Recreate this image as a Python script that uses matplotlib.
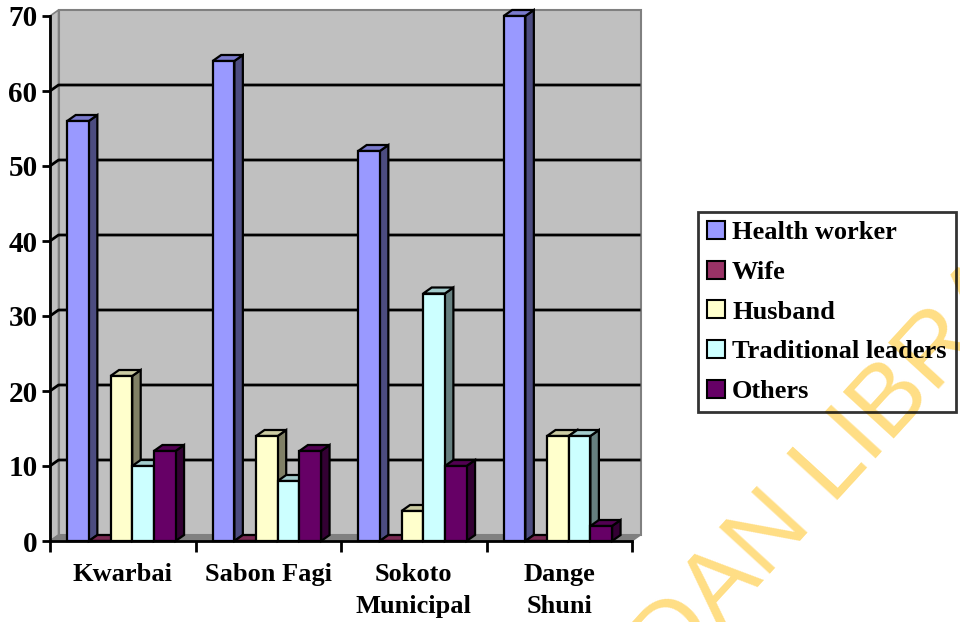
import matplotlib.pyplot as plt
from matplotlib.patches import Polygon, Patch

plt.rcParams["font.family"] = ["Liberation Serif", "DejaVu Serif"]
plt.rcParams["font.weight"] = "bold"

districts = ["Kwarbai", "Sabon Fagi", "Sokoto\nMunicipal", "Dange\nShuni"]
series = ["Health worker", "Wife", "Husband", "Traditional leaders", "Others"]
health_worker = [56, 64, 52, 70]
wife = [0, 0, 0, 0]
husband = [22, 14, 4, 14]
traditional_leaders = [10, 8, 33, 14]
others = [12, 12, 10, 2]
values = [health_worker, wife, husband, traditional_leaders, others]

front_colors = ["#9999FF", "#993366", "#FFFFCC", "#CCFFFF", "#660066"]
side_colors = ["#4C4C80", "#4D1A33", "#808066", "#668080", "#330033"]
top_colors = ["#7A7ACC", "#7A2952", "#CCCCA3", "#A3CCCC", "#520052"]

W, H = 960, 622
fig = plt.figure(figsize=(W / 100, H / 100), dpi=100)
ax_px = (50, 81, 582, 525)  # left, bottom, width, height in pixels
ax = fig.add_axes([ax_px[0] / W, ax_px[1] / H, ax_px[2] / W, ax_px[3] / H])
ax.set_xlim(0, 4)
ax.set_ylim(0, 70)

# depth offset of the 3-D look, pixels -> data units
dx = 8.5 / ax_px[2] * 4
dy = 6.0 / ax_px[3] * 70

# walls and floor
ax.add_patch(Polygon([(dx, dy), (4 + dx, dy), (4 + dx, 70 + dy), (dx, 70 + dy)],
                     closed=True, fc="#C0C0C0", ec="#808080", lw=1.5,
                     clip_on=False, zorder=1))
ax.add_patch(Polygon([(0, 0), (dx, dy), (dx, 70 + dy), (0, 70)],
                     closed=True, fc="#C0C0C0", ec="#808080", lw=1.2,
                     clip_on=False, zorder=1))
ax.add_patch(Polygon([(0, 0), (4, 0), (4 + dx, dy), (dx, dy)],
                     closed=True, fc="#808080", ec="#808080", lw=1,
                     clip_on=False, zorder=1.2))

for v in range(10, 70, 10):
    ax.plot([0, dx, 4 + dx], [v, v + dy, v + dy], color="black", lw=2,
            clip_on=False, zorder=1.1, solid_capstyle="butt")

# bars
bar_w = 0.149
start = 0.118
z = 2
for i in range(len(districts)):
    for j, vals in enumerate(values):
        h = vals[i]
        x0 = i + start + j * bar_w
        x1 = x0 + bar_w
        side = Polygon([(x1, 0), (x1 + dx, dy), (x1 + dx, h + dy), (x1, h)],
                       closed=True, fc=side_colors[j], ec="black", lw=1.6,
                       clip_on=False, zorder=z)
        top = Polygon([(x0, h), (x1, h), (x1 + dx, h + dy), (x0 + dx, h + dy)],
                      closed=True, fc=top_colors[j], ec="black", lw=1.6,
                      clip_on=False, zorder=z)
        face = Polygon([(x0, 0), (x1, 0), (x1, h), (x0, h)],
                       closed=True, fc=front_colors[j], ec="black", lw=1.6,
                       clip_on=False, zorder=z + 0.01)
        ax.add_patch(side)
        ax.add_patch(top)
        ax.add_patch(face)
        z += 0.02

# axes
for s in ["top", "right"]:
    ax.spines[s].set_visible(False)
for s in ["left", "bottom"]:
    ax.spines[s].set_linewidth(2)
    ax.spines[s].set_zorder(10)
ax.set_facecolor("none")

ax.set_yticks(range(0, 71, 10))
ax.tick_params(axis="y", direction="out", length=6, width=2, labelsize=21, pad=3)
ax.set_xticks([0, 1, 2, 3, 4])
ax.set_xticklabels([])
ax.set_xticks([0.5, 1.5, 2.5, 3.5], minor=True)
ax.set_xticklabels(districts, minor=True, fontsize=19, linespacing=1.47, va="top")
ax.tick_params(axis="x", which="major", direction="out", length=8, width=2)
ax.tick_params(axis="x", which="minor", length=0, pad=16)
for lbl in ax.get_yticklabels() + ax.get_xticklabels(minor=True):
    lbl.set_fontweight("bold")

# legend
handles = [Patch(fc=c, ec="black", lw=1.5) for c in front_colors]
leg = fig.legend(handles, series, loc="upper left",
                 bbox_to_anchor=(698 / W, 1 - 212 / H),
                 prop={"family": "Liberation Serif", "weight": "bold", "size": 19},
                 fancybox=False, frameon=True, edgecolor="black",
                 handlelength=0.68, handleheight=0.68, handletextpad=0.27,
                 labelspacing=0.62, borderpad=0.34, borderaxespad=0)
leg.get_frame().set_linewidth(2)
leg.get_frame().set_facecolor("none")
leg.set_zorder(5)

# library watermark
fig.text(0.5854, -0.2878, "IBADAN LIBRARY", fontsize=72, color="#FFDE85",
         family="Liberation Sans", weight="normal", rotation=47.5,
         rotation_mode="anchor", ha="left", va="baseline", zorder=0)

fig.savefig("out.png", dpi=100)
